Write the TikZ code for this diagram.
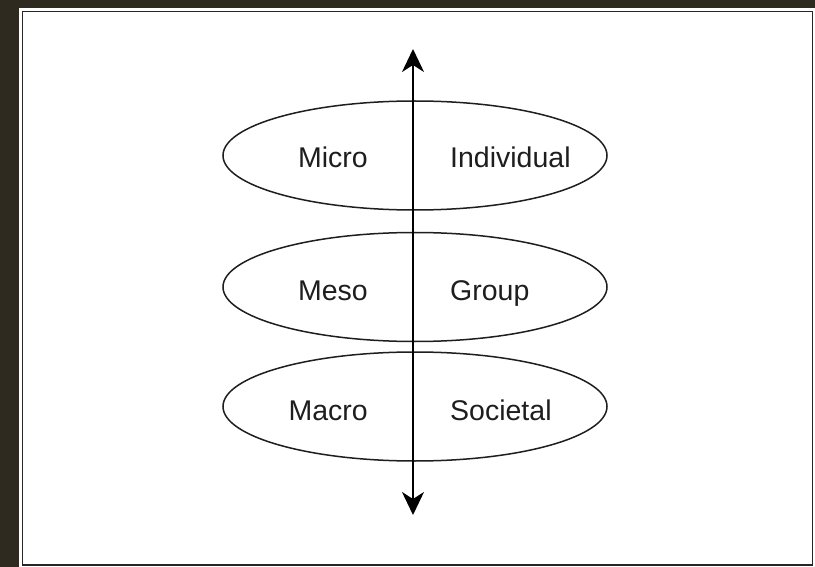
\documentclass[tikz,border=0pt]{standalone}
\usepackage{fontspec}
\setmainfont{Liberation Sans}
\usetikzlibrary{shapes.geometric,arrows.meta,positioning}
\definecolor{bgdark}{RGB}{46,42,31}
\definecolor{inkgray}{RGB}{30,30,30}

\begin{document}
\begin{tikzpicture}[
    x=1pt, y=-1pt,
    level/.style={ellipse, draw=inkgray, line width=1.5pt, minimum width=384pt, minimum height=109pt, inner sep=0pt},
    lbl/.style={inner sep=0pt, text=inkgray, font=\fontsize{28.5}{34}\selectfont},
    axis/.style={line width=1.8pt, draw=black, {Stealth[length=23pt,width=22pt,inset=7pt]}-{Stealth[length=23pt,width=22pt,inset=7pt]}}
]
    % frame
    \fill[bgdark] (0,0) rectangle (815,567);
    \fill[white] (19,8) rectangle (815,567);
    \draw[line width=1.5pt, draw=black!85] (22.5,11.5) rectangle (812.5,565);

    % the three levels
    \node[level] (micro) at (415,155.5) {};
    \node[level] (meso) at (415,287) {};
    \node[level] (macro) at (415,406.5) {};

    \node[lbl, anchor=base east] (microL) at ([xshift=-47pt,yshift=-12.5pt]micro.center) {Micro};
    \node[lbl, anchor=base west] (microR) at ([xshift=35pt,yshift=-12.5pt]micro.center) {Individual};
    \node[lbl, anchor=base east] (mesoL) at ([xshift=-47pt,yshift=-13pt]meso.center) {Meso};
    \node[lbl, anchor=base west] (mesoR) at ([xshift=35pt,yshift=-13pt]meso.center) {Group};
    \node[lbl, anchor=base east] (macroL) at ([xshift=-47pt,yshift=-13.5pt]macro.center) {Macro};
    \node[lbl, anchor=base west] (macroR) at ([xshift=35pt,yshift=-13.5pt]macro.center) {Societal};

    % vertical axis
    \coordinate (top) at (413,49);
    \coordinate (bot) at (413,515);
    \draw[axis] (bot) -- (top);
\end{tikzpicture}
\end{document}
